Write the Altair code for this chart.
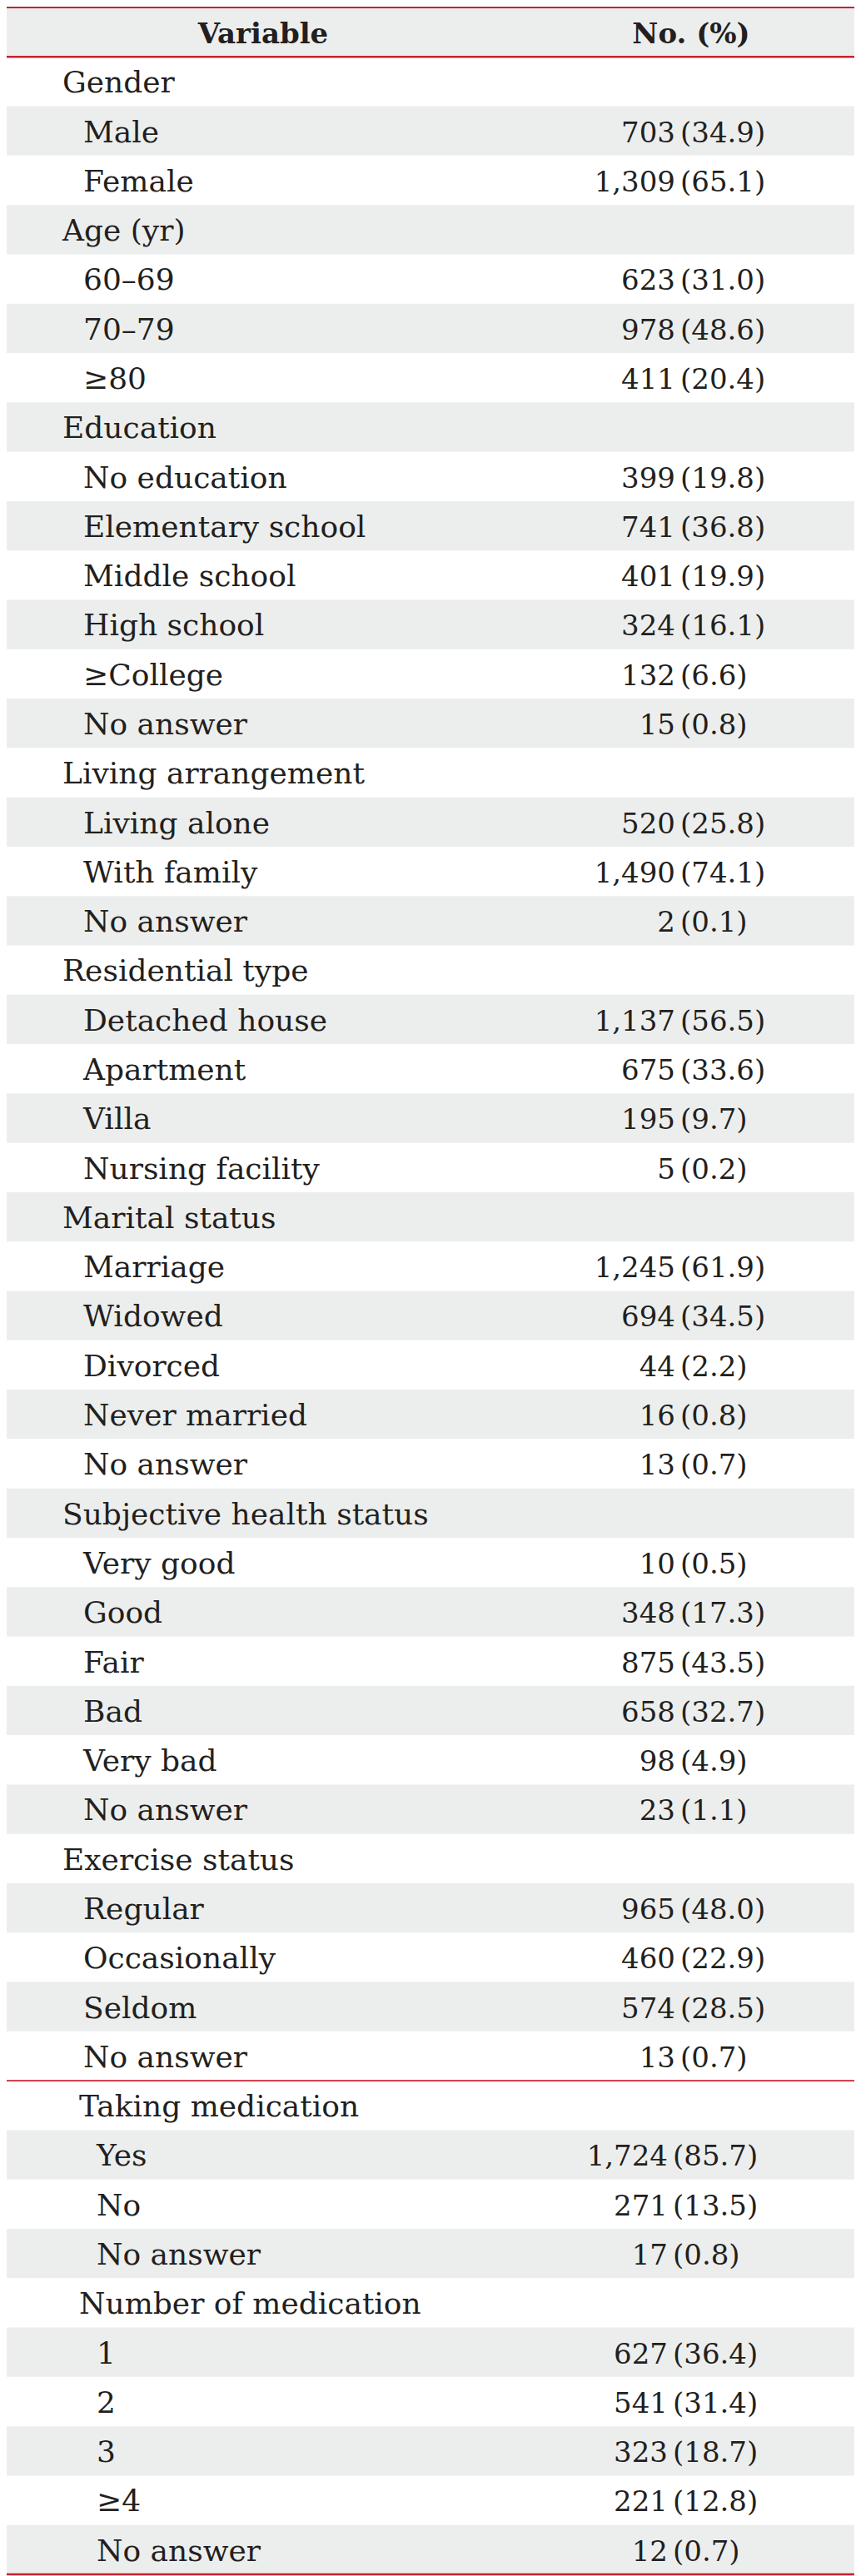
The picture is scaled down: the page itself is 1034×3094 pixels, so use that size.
import altair as alt
import pandas as pd

# ---------------- data ----------------
header = ["Variable", "No. (%)"]

labels = [
    "Gender", "Male", "Female",
    "Age (yr)", "60–69", "70–79", "≥80",
    "Education", "No education", "Elementary school", "Middle school", "High school", "≥College", "No answer",
    "Living arrangement", "Living alone", "With family", "No answer",
    "Residential type", "Detached house", "Apartment", "Villa", "Nursing facility",
    "Marital status", "Marriage", "Widowed", "Divorced", "Never married", "No answer",
    "Subjective health status", "Very good", "Good", "Fair", "Bad", "Very bad", "No answer",
    "Exercise status", "Regular", "Occasionally", "Seldom", "No answer",
    "Taking medication", "Yes", "No", "No answer",
    "Number of medication", "1", "2", "3", "≥4", "No answer",
]
counts = [
    None, 703, 1309,
    None, 623, 978, 411,
    None, 399, 741, 401, 324, 132, 15,
    None, 520, 1490, 2,
    None, 1137, 675, 195, 5,
    None, 1245, 694, 44, 16, 13,
    None, 10, 348, 875, 658, 98, 23,
    None, 965, 460, 574, 13,
    None, 1724, 271, 17,
    None, 627, 541, 323, 221, 12,
]
percents = [
    None, 34.9, 65.1,
    None, 31.0, 48.6, 20.4,
    None, 19.8, 36.8, 19.9, 16.1, 6.6, 0.8,
    None, 25.8, 74.1, 0.1,
    None, 56.5, 33.6, 9.7, 0.2,
    None, 61.9, 34.5, 2.2, 0.8, 0.7,
    None, 0.5, 17.3, 43.5, 32.7, 4.9, 1.1,
    None, 48.0, 22.9, 28.5, 0.7,
    None, 85.7, 13.5, 0.8,
    None, 36.4, 31.4, 18.7, 12.8, 0.7,
]
# table part each row belongs to (a red rule separates part 1 and part 2)
part = [1] * 41 + [2] * 10

# ---------------- table frame ----------------
rows = []
local = {1: 0, 2: 0}
for i, (lab, c, p, s) in enumerate(zip(labels, counts, percents, part)):
    local[s] += 1
    rows.append({
        "row": i + 1,
        "label": lab,
        "kind": "cat" if c is None else "item",
        "part": s,
        "count": "" if c is None else f"{c:,}",
        "pct": "" if p is None else f"({p:.1f})",
        "shade": local[s] % 2 == 0,
    })
df = pd.DataFrame(rows)

hdr = pd.DataFrame({"row": [0, 0], "label": header, "col": ["var", "num"]})
shade_df = pd.concat([
    pd.DataFrame({"row": [0]}),
    df.loc[df["shade"], ["row"]],
], ignore_index=True)
rule_df = pd.DataFrame({"row": [0, 1, 42, 52], "w": [2.0, 2.5, 1.6, 2.6]})

NROWS = 52
W = 1018
H = 3086
FONT = "DejaVu Serif"
FS_LABEL = 36
FS_NUM = 34
INK = "#231f20"
GRAY = "#eceeed"
RED = "#c8202f"

yscale = alt.Scale(domain=[0, NROWS], range=[1, 3084], zero=False, nice=False)

stripes = alt.Chart(shade_df).transform_calculate(r2="datum.row + 1").mark_rect(
    color=GRAY
).encode(
    x=alt.value(0), x2=alt.value(W),
    y=alt.Y("row:Q", scale=yscale, axis=None), y2="r2:Q",
)

rules = alt.Chart(rule_df).mark_rule(color=RED).encode(
    x=alt.value(0), x2=alt.value(W),
    y=alt.Y("row:Q", scale=yscale, axis=None),
    strokeWidth=alt.StrokeWidth("w:Q", scale=None, legend=None),
)


def text_layer(data, filt, field, x, align, size, bold=False):
    ch = alt.Chart(data)
    if filt:
        ch = ch.transform_filter(filt)
    return ch.transform_calculate(ty="datum.row + 0.725").mark_text(
        align=align, baseline="alphabetic", font=FONT, fontSize=size,
        color=INK, fontWeight="bold" if bold else "normal",
    ).encode(
        x=alt.value(x),
        y=alt.Y("ty:Q", scale=yscale, axis=None),
        text=alt.Text(f"{field}:N"),
    )


layers = [
    stripes,
    text_layer(hdr, "datum.col == 'var'", "label", 308, "center", FS_NUM, bold=True),
    text_layer(hdr, "datum.col == 'num'", "label", 822, "center", FS_NUM, bold=True),
    # part 1
    text_layer(df, "datum.part == 1 && datum.kind == 'cat'", "label", 67, "left", FS_LABEL),
    text_layer(df, "datum.part == 1 && datum.kind == 'item'", "label", 92, "left", FS_LABEL),
    text_layer(df, "datum.part == 1", "count", 803, "right", FS_NUM),
    text_layer(df, "datum.part == 1", "pct", 809, "left", FS_NUM),
    # part 2
    text_layer(df, "datum.part == 2 && datum.kind == 'cat'", "label", 87, "left", FS_LABEL),
    text_layer(df, "datum.part == 2 && datum.kind == 'item'", "label", 108, "left", FS_LABEL),
    text_layer(df, "datum.part == 2", "count", 794, "right", FS_NUM),
    text_layer(df, "datum.part == 2", "pct", 800, "left", FS_NUM),
    rules,
]

chart = alt.layer(*layers).properties(
    width=W, height=H,
    autosize=alt.AutoSizeParams(type="none"),
    padding={"left": 0, "right": 0, "top": 0, "bottom": 0},
    background="white",
).configure_view(stroke=None)

chart.save("out.html", embed_options={"renderer": "svg", "actions": False})
